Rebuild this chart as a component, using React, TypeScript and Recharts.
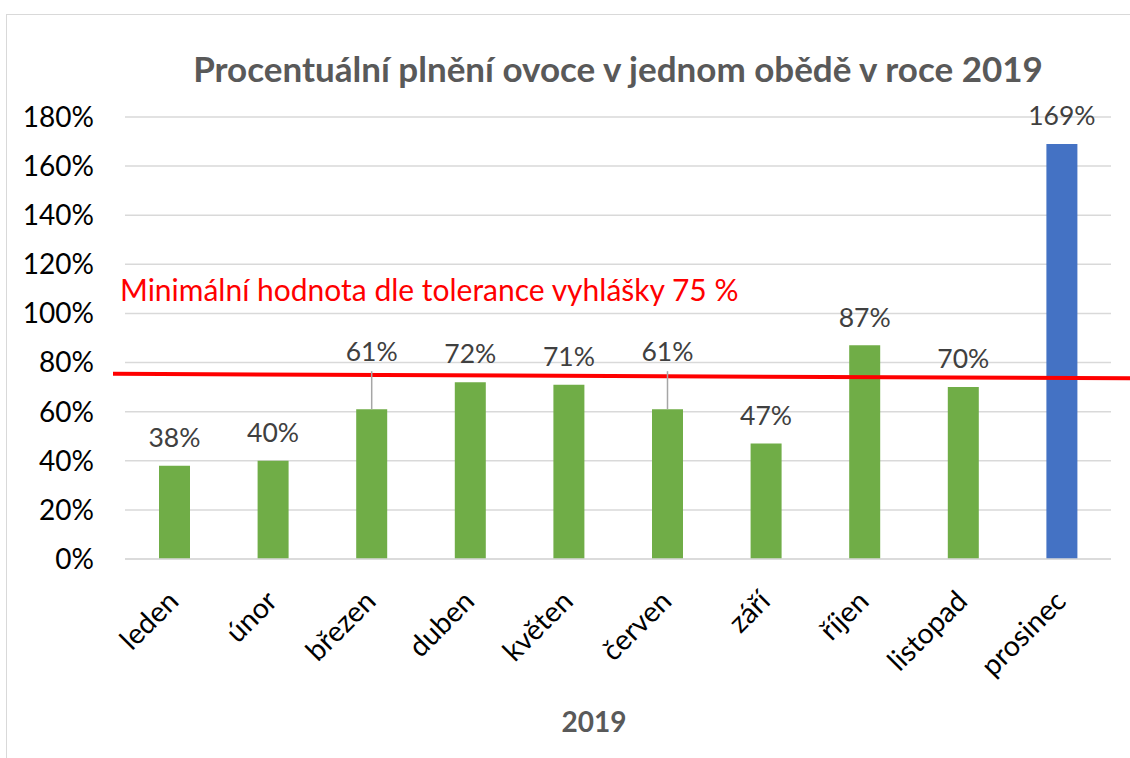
import {
  BarChart,
  Bar,
  XAxis,
  YAxis,
  CartesianGrid,
  LabelList,
  Cell,
  ReferenceLine
} from "recharts";

const months = [
  "leden",
  "únor",
  "březen",
  "duben",
  "květen",
  "červen",
  "září",
  "říjen",
  "listopad",
  "prosinec"
];
const fulfilment = [38, 40, 61, 72, 71, 61, 47, 87, 70, 169];
const yTicks = [0, 20, 40, 60, 80, 100, 120, 140, 160, 180];
const minimumTolerance = 75;
const leaderMonths = ["březen", "červen"];
const highlightMonth = "prosinec";

const chartData = months.map((month, i) => ({ month, value: fulfilment[i] }));

const FONT = "Lato, 'Open Sans', sans-serif";

function MonthTick({ x, y, payload }: any) {
  const ax = x + 6;
  const ay = y + 44;
  return (
    <text
      x={ax}
      y={ay}
      transform={`rotate(-45 ${ax} ${ay})`}
      textAnchor="end"
      fontSize={28.5}
      fontFamily={FONT}
      fill="#000"
    >
      {payload.value}
    </text>
  );
}

function ValueLabel({ x, y, width, value, index }: any) {
  const cx = x + width / 2;
  const lifted = leaderMonths.includes(months[index]);
  const ty = lifted ? y - 57 : y - 28;
  return (
    <g>
      {lifted && (
        <line x1={cx} y1={ty + 19} x2={cx} y2={y} stroke="#a6a6a6" strokeWidth={1.5} />
      )}
      <text
        x={cx}
        y={ty}
        dy="0.35em"
        textAnchor="middle"
        fontSize={26.5}
        fontFamily={FONT}
        fill="#404040"
      >
        {value}%
      </text>
    </g>
  );
}

function ToleranceLine({ x1, y1, x2, y2 }: any) {
  // hand-drawn line in the original runs a bit past the plot and slopes slightly
  return (
    <line
      x1={x1 - 12}
      y1={y1 - 1}
      x2={x2 + 25}
      y2={y2 + 3.5}
      stroke="#ff0000"
      strokeWidth={4}
    />
  );
}

export default function App() {
  return (
    <div
      style={{
        position: "relative",
        width: 1130,
        height: 758,
        overflow: "hidden",
        background: "#fff",
        fontFamily: FONT
      }}
    >
      <style>{"body{margin:0}"}</style>
      <div
        style={{
          position: "absolute",
          left: 6,
          top: 14,
          width: 1200,
          height: 800,
          border: "1px solid #d9d9d9"
        }}
      />
      <div
        style={{
          position: "absolute",
          left: 0,
          width: 1236,
          top: 46,
          textAlign: "center",
          fontSize: 35,
          fontWeight: 700,
          color: "#595959",
          lineHeight: "44px"
        }}
      >
        Procentuální plnění ovoce v jednom obědě v roce 2019
      </div>
      <div
        style={{
          position: "absolute",
          left: 120,
          top: 270,
          fontSize: 30,
          color: "#ff0000",
          lineHeight: "38px",
          whiteSpace: "nowrap"
        }}
      >
        Minimální hodnota dle tolerance vyhlášky 75 %
      </div>
      <div
        style={{
          position: "absolute",
          left: 494,
          width: 200,
          top: 702,
          textAlign: "center",
          fontSize: 28,
          fontWeight: 700,
          color: "#595959",
          lineHeight: "38px"
        }}
      >
        2019
      </div>
      <div style={{ position: "absolute", left: 0, top: 0 }}>
        <BarChart
          width={1130}
          height={758}
          data={chartData}
          margin={{ top: 117, right: 19, bottom: 79, left: 0 }}
          barSize={31}
        >
          <CartesianGrid vertical={false} stroke="#d9d9d9" strokeWidth={1.5} />
          <XAxis
            dataKey="month"
            height={120}
            tickLine={false}
            tickSize={0}
            tickMargin={0}
            axisLine={{ stroke: "#d9d9d9", strokeWidth: 1.5 }}
            tick={<MonthTick />}
            interval={0}
          />
          <YAxis
            width={125}
            domain={[0, 180]}
            ticks={yTicks}
            tickFormatter={(v: number) => `${v}%`}
            axisLine={false}
            tickLine={false}
            tickSize={0}
            tickMargin={31}
            tick={{ fill: "#000", fontSize: 28, fontFamily: FONT }}
          />
          <Bar dataKey="value" isAnimationActive={false}>
            {chartData.map((d) => (
              <Cell
                key={d.month}
                fill={d.month === highlightMonth ? "#4472c4" : "#70ad47"}
              />
            ))}
            <LabelList dataKey="value" content={<ValueLabel />} />
          </Bar>
          <ReferenceLine
            y={minimumTolerance}
            ifOverflow="visible"
            shape={<ToleranceLine />}
          />
        </BarChart>
      </div>
    </div>
  );
}
